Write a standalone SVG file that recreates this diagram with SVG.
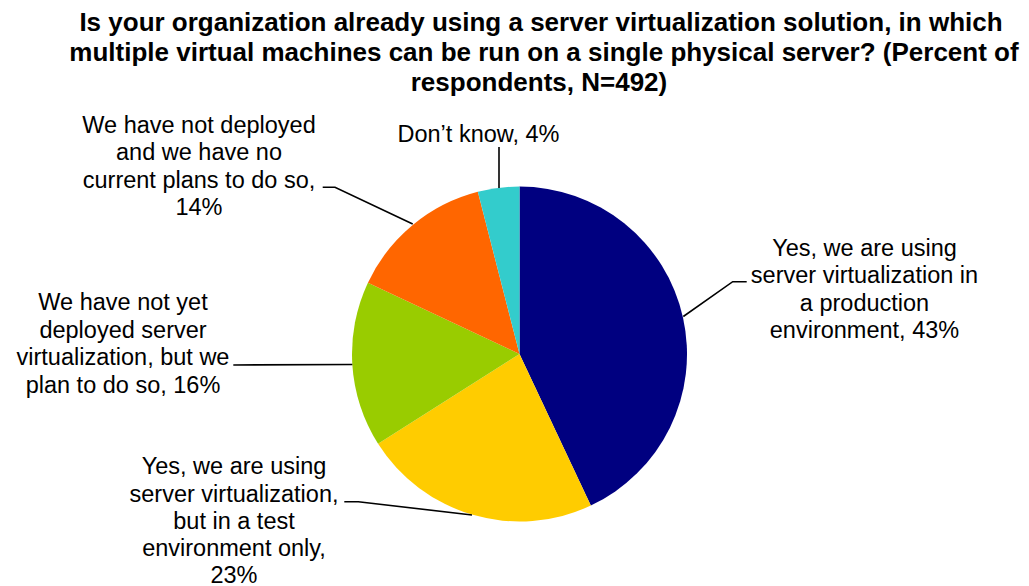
<svg xmlns="http://www.w3.org/2000/svg" width="1029" height="586" viewBox="0 0 1029 586">
  <style>
    .title { font-family: "Liberation Sans", Arial, sans-serif; font-size: 26px; font-weight: bold; fill: #000; text-anchor: middle; }
    .lbl { font-family: "Liberation Sans", Arial, sans-serif; font-size: 23.5px; fill: #000; text-anchor: middle; }
    .leader { fill: none; stroke: #000; stroke-width: 1.6; }
  </style>
  <rect width="1029" height="586" fill="#fff"/>

  <!-- chart title -->
  <g id="title">
    <text class="title" x="541" y="31">Is your organization already using a server virtualization solution, in which</text>
    <text class="title" x="544" y="61">multiple virtual machines can be run on a single physical server? (Percent of</text>
    <text class="title" x="539" y="91">respondents, N=492)</text>
  </g>

  <!-- pie slices, clockwise from 12 o'clock; centre 519.5,354, r 167.5 -->
  <g id="slice-production">
    <path d="M519.5,354 L519.5,186.5 A167.5,167.5 0 0 1 590.82,505.56 Z" fill="#000080"/>
  </g>
  <g id="slice-test">
    <path d="M519.5,354 L590.82,505.56 A167.5,167.5 0 0 1 378.07,443.75 Z" fill="#FFCC00"/>
  </g>
  <g id="slice-plan">
    <path d="M519.5,354 L378.07,443.75 A167.5,167.5 0 0 1 367.94,282.68 Z" fill="#99CC00"/>
  </g>
  <g id="slice-noplan">
    <path d="M519.5,354 L367.94,282.68 A167.5,167.5 0 0 1 477.84,191.76 Z" fill="#FF6600"/>
  </g>
  <g id="slice-dontknow">
    <path d="M519.5,354 L477.84,191.76 A167.5,167.5 0 0 1 519.5,186.5 Z" fill="#33CCCC"/>
  </g>

  <!-- leader lines from labels to slices -->
  <g id="connectors">
    <polyline class="leader" points="746.7,281.7 732.7,281.7 683.3,316.5"/>
    <polyline class="leader" points="344.3,501.7 358.3,501.7 472,515"/>
    <polyline class="leader" points="233.3,365 352.3,364.5"/>
    <polyline class="leader" points="322.7,187.3 335,187.3 412.7,224"/>
    <polyline class="leader" points="499,147 499,188"/>
  </g>

  <!-- data labels -->
  <g id="label-production">
    <text class="lbl" x="864.5" y="255.5">Yes, we are using</text>
    <text class="lbl" x="864.5" y="283">server virtualization in</text>
    <text class="lbl" x="864.5" y="310.5">a production</text>
    <text class="lbl" x="864.5" y="338">environment, 43%</text>
  </g>
  <g id="label-test">
    <text class="lbl" x="234" y="474">Yes, we are using</text>
    <text class="lbl" x="234" y="501.5">server virtualization,</text>
    <text class="lbl" x="234" y="529">but in a test</text>
    <text class="lbl" x="234" y="556">environment only,</text>
    <text class="lbl" x="234" y="582.5">23%</text>
  </g>
  <g id="label-plan">
    <text class="lbl" x="123" y="310">We have not yet</text>
    <text class="lbl" x="123" y="337.5">deployed server</text>
    <text class="lbl" x="123" y="365">virtualization, but we</text>
    <text class="lbl" x="123" y="392.5">plan to do so, 16%</text>
  </g>
  <g id="label-noplan">
    <text class="lbl" x="199" y="132.5">We have not deployed</text>
    <text class="lbl" x="199" y="160">and we have no</text>
    <text class="lbl" x="199" y="187.5">current plans to do so,</text>
    <text class="lbl" x="199" y="215">14%</text>
  </g>
  <g id="label-dontknow">
    <text class="lbl" x="478.5" y="141.7">Don’t know, 4%</text>
  </g>
</svg>
